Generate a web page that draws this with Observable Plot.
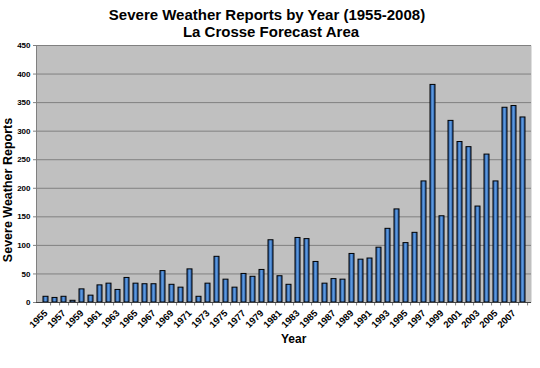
<!DOCTYPE html>
<html><head><meta charset="utf-8">
<script src="https://cdn.jsdelivr.net/npm/d3@7"></script>
<script src="https://cdn.jsdelivr.net/npm/@observablehq/plot@0.6"></script>
<style>
body{margin:0;background:#fff;}
#wrap{position:relative;width:540px;height:368px;font-family:"Liberation Sans",Arial,sans-serif;color:#000;}
#wrap svg{position:absolute;left:0;top:0;}
.t{position:absolute;left:0;width:540px;text-align:center;font-weight:bold;font-size:15px;line-height:15px;white-space:nowrap;}
.lab{position:absolute;font-weight:bold;white-space:nowrap;}
</style></head><body>
<div id="wrap">
  <div class="t" style="top:7px;left:-3px;">Severe Weather Reports by Year (1955-2008)</div>
  <div class="t" style="top:24px;left:1px;">La Crosse Forecast Area</div>
  <div class="lab" id="ytitle" style="font-size:12.5px;left:8px;top:190px;transform:translate(-50%,-50%) rotate(-90deg);">Severe Weather Reports</div>
  <div class="lab" style="font-size:12px;left:281px;top:332px;">Year</div>
</div>
<script>
const years = [1955,1956,1957,1958,1959,1960,1961,1962,1963,1964,1965,1966,1967,1968,1969,1970,1971,1972,1973,1974,1975,1976,1977,1978,1979,1980,1981,1982,1983,1984,1985,1986,1987,1988,1989,1990,1991,1992,1993,1994,1995,1996,1997,1998,1999,2000,2001,2002,2003,2004,2005,2006,2007,2008];
const reports = [10,8,10,3,23,12,30,33,22,43,33,32,32,55,31,26,58,10,33,80,40,26,50,45,57,109,46,31,113,111,71,33,41,40,85,75,77,96,129,163,104,122,212,381,151,318,281,272,168,259,212,341,344,324];
const yTicks = [0,50,100,150,200,250,300,350,400,450];
const xTickLabels = [1955,1957,1959,1961,1963,1965,1967,1969,1971,1973,1975,1977,1979,1981,1983,1985,1987,1989,1991,1993,1995,1997,1999,2001,2003,2005,2007];

const data = years.map((year, i) => ({year, reports: reports[i]}));
const W = 540, ML = 36, MR = 9;
const step = (W - ML - MR) / years.length;

const plot = Plot.plot({
  width: 540, height: 368,
  marginLeft: ML, marginRight: MR, marginTop: 45, marginBottom: 66,
  style: {fontFamily: "'Liberation Sans', Arial, sans-serif", fontSize: "8px", fontWeight: "bold", color: "#000", background: "transparent"},
  x: {type: "band", domain: years, padding: 0.5, label: null},
  y: {domain: [0, 450], label: null},
  marks: [
    Plot.frame({fill: "#c0c0c0", stroke: null}),
    Plot.gridY(yTicks, {stroke: "#808080", strokeOpacity: 1, strokeWidth: 1}),
    Plot.barY(data, {x: "year", y: "reports", fill: "url(#barGrad)", stroke: "#000", strokeWidth: 1}),
    Plot.ruleX(years, {x: d => d, y1: 0, y2: -6, dx: step / 2, stroke: "#808080"}),
    Plot.axisY({ticks: yTicks, tickSize: 3, tickPadding: 3, stroke: "#808080", fill: "#000", label: null}),
    Plot.frame({anchor: "left", stroke: "#808080"}),
    Plot.axisX({ticks: xTickLabels, tickSize: 0, tickRotate: -45, tickPadding: 9, fontSize: 9.5, tickFormat: d => String(d), fill: "#000", label: null}),
    Plot.ruleY([0], {stroke: "#404040"})
  ]
});

const defs = d3.select(plot).insert("defs", ":first-child");
const g = defs.append("linearGradient").attr("id", "barGrad").attr("x1", "0").attr("x2", "1").attr("y1", "0").attr("y2", "0");
g.append("stop").attr("offset", "0%").attr("stop-color", "#24549a");
g.append("stop").attr("offset", "50%").attr("stop-color", "#5b98de");
g.append("stop").attr("offset", "100%").attr("stop-color", "#24549a");

document.getElementById("wrap").prepend(plot);
</script>
</body></html>
